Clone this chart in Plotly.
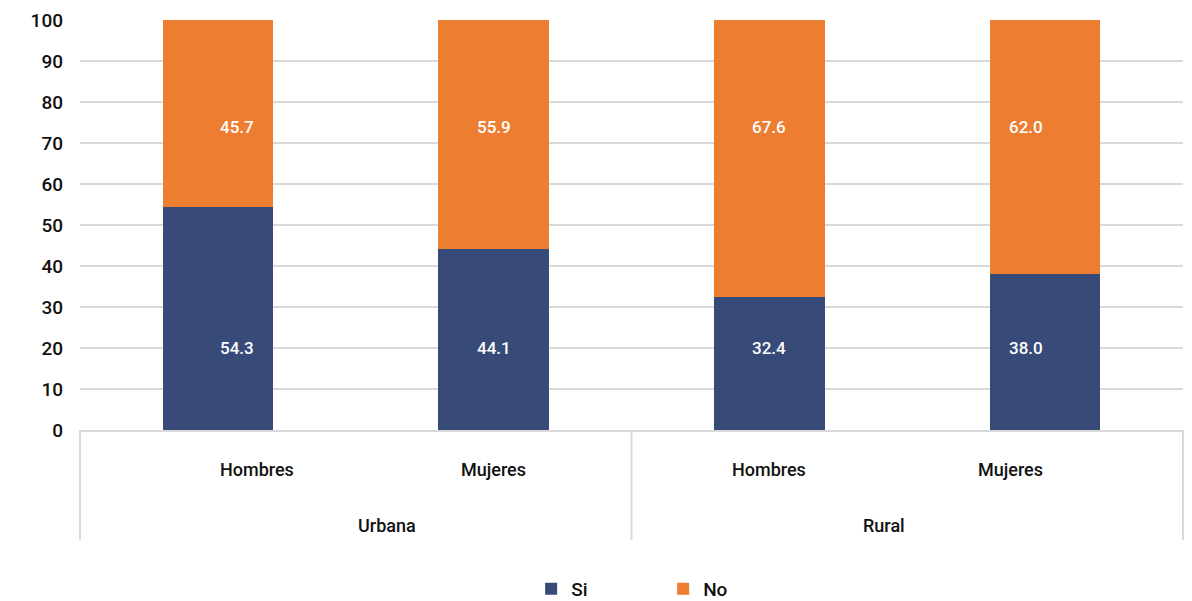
import plotly.graph_objects as go

# Grouped categories: area (outer) and sex (inner)
areas = ["Urbana", "Urbana", "Rural", "Rural"]
sexes = ["Hombres", "Mujeres", "Hombres", "Mujeres"]
area_groups = ["Urbana", "Rural"]

si_values = [54.3, 44.1, 32.4, 38.0]
no_values = [45.7, 55.9, 67.6, 62.0]

y_ticks = [0, 10, 20, 30, 40, 50, 60, 70, 80, 90, 100]

BLUE = "#384A78"
ORANGE = "#ED7D31"
GRID = "#D9D9D9"
INK = "#111111"
FONT = "Roboto"

# Plot area geometry in pixels (used to convert label offsets to paper units)
H, W = 601, 1192
M_L, M_R, M_T, M_B = 80, 9, 20, 171
PLOT_H = H - M_T - M_B


def below_axis(px):
    """Paper y for a point px pixels below the x axis line."""
    return -px / PLOT_H


fig = go.Figure()
for name, vals, color in [("Si", si_values, BLUE), ("No", no_values, ORANGE)]:
    fig.add_trace(go.Bar(
        name=name,
        x=[areas, sexes],
        y=vals,
        marker=dict(color=color, line=dict(width=0)),
        hovertemplate="%{y:.1f}<extra>" + name + "</extra>",
    ))

# Value labels: each series is labelled at a fixed height inside its segment
label_rows = [(si_values, 20), (no_values, 74)]
n = len(sexes)
for vals, y_pos in label_rows:
    for i, v in enumerate(vals):
        fig.add_annotation(
            x=(i + 0.5) / n, xref="paper",
            y=y_pos, yref="y", yanchor="middle",
            text=f"{v:.1f}",
            showarrow=False,
            font=dict(color="white", size=17, family=FONT, weight=500),
        )

# Two-level category labels under the axis
for i, s in enumerate(sexes):
    fig.add_annotation(
        x=(i + 0.5) / n, xref="paper",
        y=below_axis(39), yref="paper", yanchor="middle",
        text=s, showarrow=False,
        font=dict(color=INK, size=18, family=FONT, weight=500),
    )
n_groups = len(area_groups)
for j, a in enumerate(area_groups):
    fig.add_annotation(
        x=(j + 0.5) / n_groups, xref="paper",
        y=below_axis(95), yref="paper", yanchor="middle",
        text=a, showarrow=False,
        font=dict(color=INK, size=18, family=FONT, weight=500),
    )

# Group dividers through both label rows
for k in range(n_groups + 1):
    fig.add_shape(
        type="line", xref="paper", yref="paper",
        x0=k / n_groups, x1=k / n_groups,
        y0=0, y1=below_axis(110),
        line=dict(color=GRID, width=2),
        layer="below",
    )

fig.update_layout(
    barmode="stack",
    bargap=0.6,
    width=W,
    height=H,
    margin=dict(l=M_L, r=M_R, t=M_T, b=M_B, autoexpand=False),
    plot_bgcolor="white",
    paper_bgcolor="white",
    font=dict(family=FONT, size=17, color=INK),
    legend=dict(
        orientation="h",
        x=0.409, xanchor="left",
        yref="container", y=(H - 589) / H, yanchor="middle",
        font=dict(size=19, family=FONT, color=INK, weight=500),
        entrywidth=87,
        itemwidth=30,
        traceorder="normal",
    ),
    showlegend=True,
)

fig.update_yaxes(
    range=[0, 100],
    tickvals=y_ticks,
    showgrid=True,
    gridcolor=GRID,
    gridwidth=2,
    zeroline=False,
    showline=False,
    ticks="",
    ticklabelstandoff=16,
    tickfont=dict(size=19, family=FONT, color=INK, weight=500),
)

fig.update_xaxes(
    type="multicategory",
    showline=True,
    linecolor=GRID,
    linewidth=2,
    showdividers=False,
    showticklabels=False,
    ticks="",
)

fig.write_html("out.html")
